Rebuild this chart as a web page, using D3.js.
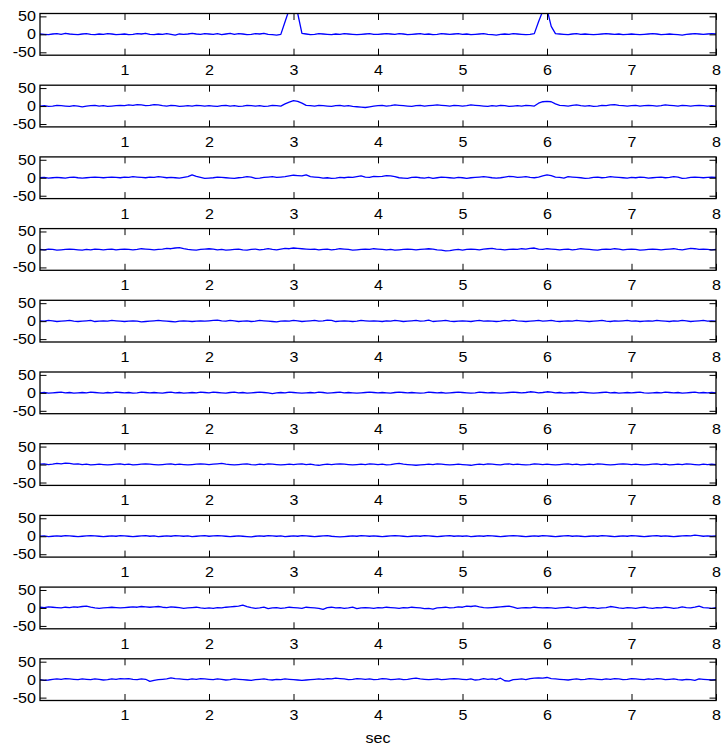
<html>
  <head>
    <meta charset="utf-8">
    <script src="https://d3js.org/d3.v7.min.js"></script>
    <style>
      body { margin: 0; background: #fff; }
      text { font-family: "Liberation Sans", Arial, sans-serif; }
    </style>
  </head>
  <body>
    <div id="vis"></div>
  </body>
  <script>
    // samples every 0.05 sec, 0..8 sec (20 per second + last one)
    var tStep = 0.05
    var xTicks = [1, 2, 3, 4, 5, 6, 7, 8]
    var yTicks = [-50, 0, 50]
    var xLabel = "sec"

    var sig1 = [
      1,0,-1,1,2,0,3,1,0,-1,1,2,0,-1,1,0,2,1,-1,0,
      1,-1,0,2,1,3,0,-1,1,0,2,0,-2,1,0,1,3,1,0,2,
      1,0,2,-1,1,3,0,2,1,-1,0,2,1,3,0,-1,-2,0,35,70,
      75,58,3,1,-1,0,2,1,0,-1,1,0,2,1,0,-1,0,1,2,0,
      0,1,2,1,0,2,1,-1,0,1,2,0,1,-1,0,2,1,0,1,2,
      0,1,-1,0,1,2,0,-1,-2,0,1,0,2,1,0,-1,0,2,35,65,
      70,22,2,1,0,-1,1,2,0,1,0,-1,0,1,2,1,0,1,-1,0,
      1,0,-1,0,1,2,1,-1,0,1,0,-1,-2,0,1,2,1,0,1,2,
      1]
    var sig2 = [
      0,1,-1,0,2,1,0,-1,1,0,-2,0,1,2,0,1,-1,0,1,2,
      1,3,2,4,3,1,2,4,3,1,0,2,1,-1,0,1,0,2,1,0,
      1,0,-1,1,2,0,1,-1,0,2,1,0,1,-1,0,2,1,0,6,11,
      15,13,8,2,1,0,2,1,0,-1,1,2,0,1,-1,-2,-3,-4,-2,0,
      1,2,0,1,3,2,1,0,-1,1,2,0,1,2,3,2,1,0,2,1,
      0,1,3,2,1,0,-1,1,0,2,1,-1,0,1,0,2,1,0,8,12,
      13,12,6,2,1,0,2,3,1,0,1,-1,0,2,1,3,4,2,1,0,
      1,2,0,1,2,1,0,1,3,2,1,0,2,1,0,1,2,1,0,1,
      0]
    var sig3 = [
      0,1,-1,0,1,0,-1,1,2,0,-1,0,1,2,1,0,1,2,1,0,
      2,1,3,2,1,0,2,1,3,2,0,1,0,-1,1,3,8,4,1,-2,
      -1,0,2,1,0,-1,-2,0,1,3,2,-2,-1,1,2,3,1,2,3,5,
      7,6,5,8,3,2,1,-1,0,-2,-1,1,0,2,1,3,5,2,1,4,
      3,4,6,5,3,0,-1,-2,1,2,0,-1,1,-2,0,2,1,0,-1,1,
      0,-2,0,1,2,3,2,0,-1,0,2,4,3,1,2,3,1,0,2,5,
      8,6,2,1,-1,3,2,1,0,-2,-1,1,2,0,1,3,2,1,0,-1,
      1,0,2,1,-1,0,1,2,0,1,3,2,-2,-1,1,2,1,0,1,2,
      1]
    var sig4 = [
      0,-1,1,0,-2,-1,0,1,0,-1,-2,0,-1,1,0,-1,0,1,-1,0,
      1,0,-1,0,2,1,0,-1,0,1,3,2,4,5,2,0,-1,-2,0,1,
      2,1,-1,0,-2,-1,0,1,-1,-2,0,1,-1,0,2,0,-1,1,3,2,
      4,3,2,1,0,1,-1,0,1,-1,0,2,1,0,-2,-1,0,1,0,2,
      1,0,-1,0,-2,-1,0,1,0,-1,0,1,2,1,-1,-2,-4,-3,-1,0,
      -2,0,1,0,-1,1,2,3,1,0,-1,0,1,0,2,1,3,4,1,0,
      2,1,0,-1,0,1,-1,0,2,1,0,-1,-2,0,1,0,2,1,-1,0,
      1,0,-2,-1,0,1,0,-1,0,1,2,0,-1,1,3,2,0,1,0,-1,
      0]
    var sig5 = [
      1,0,2,1,-1,0,1,2,0,-1,0,1,2,-1,0,1,0,2,1,0,
      -1,0,1,0,-2,-1,0,1,2,1,0,-1,-2,0,1,0,-1,0,1,0,
      1,2,3,1,0,2,1,-1,0,1,-1,0,2,1,0,-1,-2,0,1,0,
      2,1,-1,0,1,2,0,1,3,2,-1,0,1,0,-1,0,2,1,0,1,
      0,-1,1,0,2,1,-1,0,1,2,0,1,3,-1,0,1,2,0,-1,0,
      1,0,-1,1,2,0,1,0,-1,0,2,1,3,1,0,-1,0,1,2,0,
      1,2,0,-1,0,1,0,2,1,0,-1,0,1,2,0,-1,1,0,1,2,
      0,1,-1,0,1,0,2,1,0,-1,1,0,2,1,-1,0,1,2,0,1,
      0]
    var sig6 = [
      0,1,-1,0,1,2,0,1,-1,0,1,0,2,1,0,-1,1,0,2,1,
      0,1,-1,0,2,1,0,1,0,-1,1,2,0,1,-1,0,1,0,2,1,
      0,2,1,0,-1,1,2,0,1,-1,0,1,2,1,0,-2,0,1,0,2,
      1,0,-1,0,1,0,2,1,-1,0,1,2,0,1,0,-1,0,1,2,1,
      0,1,0,-1,1,2,1,0,1,0,-1,0,2,1,0,1,-1,0,1,2,
      1,0,-1,0,2,1,0,1,0,-1,0,1,2,1,0,1,3,2,0,1,
      3,2,0,1,-1,0,1,0,2,1,0,-1,0,1,2,0,1,-1,0,1,
      0,1,2,0,-1,0,1,0,2,1,0,1,-1,0,1,2,0,1,0,1,
      0]
    var sig7 = [
      1,2,0,1,3,2,4,3,1,2,0,1,-1,0,1,0,-1,0,1,2,
      0,1,-1,0,1,2,1,0,-1,0,1,2,0,1,0,-1,0,1,2,1,
      0,1,2,3,1,0,-1,0,1,2,0,-1,1,0,2,1,0,-1,0,1,
      0,1,2,0,1,-1,-2,0,1,0,1,2,1,0,-1,0,1,0,2,1,
      0,1,-1,0,2,3,1,0,-1,-2,-1,0,1,0,2,1,0,-1,0,1,
      0,-1,-2,0,1,0,2,1,0,-1,1,2,0,1,0,-1,0,2,1,0,
      1,0,-1,0,1,2,0,1,-1,0,1,0,2,1,0,-1,0,1,2,1,
      0,1,0,-1,0,1,2,0,1,-1,0,1,0,2,1,0,-1,1,0,1,
      0]
    var sig8 = [
      0,1,-1,0,1,0,2,1,0,-1,0,1,2,1,0,-1,0,1,0,2,
      1,0,-1,0,1,2,0,1,-1,0,1,0,2,1,0,1,-1,0,1,2,
      0,1,2,1,0,-1,0,1,0,-1,-2,0,1,0,2,1,0,1,-1,0,
      1,0,2,1,0,-1,0,1,2,0,-1,-2,-1,0,1,0,2,1,0,1,
      0,-1,0,1,2,1,0,-1,0,1,0,2,1,0,-1,0,1,2,0,1,
      0,1,-1,0,1,0,2,1,0,-1,0,1,2,1,0,-1,0,1,0,2,
      1,0,-1,0,1,2,0,1,0,-1,0,1,0,2,1,0,-1,0,1,0,
      2,1,0,-1,0,1,2,0,1,0,-1,0,1,2,1,3,2,0,1,0,
      1]
    var sig9 = [
      2,1,3,2,1,0,2,1,3,2,4,5,2,0,-1,0,1,2,1,0,
      1,2,3,2,4,3,2,3,4,2,1,3,2,1,-1,0,1,2,0,-1,
      0,-1,1,0,2,3,4,5,8,4,1,-1,0,2,-2,0,1,-1,0,2,
      1,0,-1,2,1,0,-1,-4,1,2,0,1,-1,0,2,-2,0,1,0,-1,
      1,0,2,1,0,-1,1,0,2,1,0,-2,-1,-3,0,1,2,0,1,3,
      2,5,4,6,3,1,0,1,2,3,4,5,2,-1,0,1,0,2,1,0,
      1,0,-1,0,1,2,0,-1,1,2,0,1,-1,0,1,4,2,0,-1,1,
      0,-1,1,2,0,-1,1,0,2,1,-1,0,3,1,0,2,5,1,0,-1,
      1]
    var sig10 = [
      0,-2,-1,1,2,1,3,2,1,0,2,1,0,2,1,-1,0,2,1,3,
      2,3,1,0,2,1,-5,-2,0,1,2,5,3,2,1,0,2,1,3,2,
      1,0,2,1,-1,0,2,1,0,-1,-2,0,1,2,0,-1,1,0,2,1,
      0,-1,-2,-1,0,1,2,1,3,2,4,3,2,0,1,3,2,1,2,0,
      1,3,2,0,1,2,0,1,3,4,2,1,0,1,2,0,1,2,3,2,
      1,0,2,-1,0,3,1,2,0,4,-3,-4,0,1,2,0,3,4,5,4,
      6,3,2,1,0,-1,1,2,0,1,3,2,1,0,2,1,3,2,0,1,
      3,2,1,0,2,1,3,2,0,1,2,0,-1,1,0,-2,2,1,0,-1,
      0]

    var signals = [sig1, sig2, sig3, sig4, sig5, sig6, sig7, sig8, sig9, sig10]

    // layout
    var W = 724, H = 746
    var left = 40, right = 716
    var top0 = 13.5, step = 71.7, ph = 41.7
    var tick = 6.5
    var stretch = "scale(1.15,1)"

    var svg = d3.select("#vis")
      .append("svg")
      .attr("width", W)
      .attr("height", H)

    var x = d3.scaleLinear()
      .domain([0, 8])
      .range([left, right])

    var line = d3.line()
      .x(function(d, i) { return x(i * tStep) })

    // plain hyphen like matlab, not the unicode minus
    var fmt = function(d) { return String(d) }

    signals.forEach(function(sig, k) {
      var top = top0 + k * step
      var y = d3.scaleLinear()
        .domain([-58, 58])
        .range([top + ph, top])

      var g = svg.append("g")

      g.append("clipPath")
        .attr("id", "clip" + k)
        .append("rect")
        .attr("x", left).attr("y", top)
        .attr("width", right - left).attr("height", ph)

      g.append("path")
        .datum(sig)
        .attr("clip-path", "url(#clip" + k + ")")
        .attr("fill", "none")
        .attr("stroke", "#0000ff")
        .attr("stroke-width", 1.3)
        .attr("stroke-linejoin", "round")
        .attr("d", line.y(function(d) { return y(d) }))

      // ticks, inside the box like matlab
      g.append("g")
        .attr("transform", "translate(0," + (top + ph) + ")")
        .call(d3.axisBottom(x).tickValues(xTicks).tickSize(-tick).tickSizeOuter(0).tickPadding(10).tickFormat(fmt))
      g.append("g")
        .attr("transform", "translate(0," + top + ")")
        .call(d3.axisTop(x).tickValues(xTicks).tickSize(-tick).tickSizeOuter(0).tickFormat(""))
      var leftAx = g.append("g")
        .attr("transform", "translate(" + left + ",0)")
        .call(d3.axisLeft(y).tickValues(yTicks).tickSize(-tick).tickSizeOuter(0).tickPadding(4).tickFormat(fmt))
      g.append("g")
        .attr("transform", "translate(" + right + ",0)")
        .call(d3.axisRight(y).tickValues(yTicks).tickSize(-tick).tickSizeOuter(0).tickFormat(""))

      g.selectAll(".domain").remove()
      g.selectAll(".tick line").attr("stroke", "#000")
      g.selectAll("text")
        .attr("font-size", 14)
        .attr("font-family", '"Liberation Sans", Arial, sans-serif')
        .attr("fill", "#000")
        .attr("transform", stretch)
      leftAx.selectAll("text").attr("x", -4 / 1.15)

      g.append("rect")
        .attr("x", left).attr("y", top)
        .attr("width", right - left).attr("height", ph)
        .attr("fill", "none")
        .attr("stroke", "#000")
        .attr("stroke-width", 1.3)
    })

    svg.append("text")
      .text(xLabel)
      .attr("x", (left + right) / 2)
      .attr("y", H - 3)
      .attr("text-anchor", "middle")
      .attr("font-size", 14)
      .attr("transform", "translate(" + (-(left + right) / 2 * 0.15) + ",0) " + stretch)
  </script>
</html>
